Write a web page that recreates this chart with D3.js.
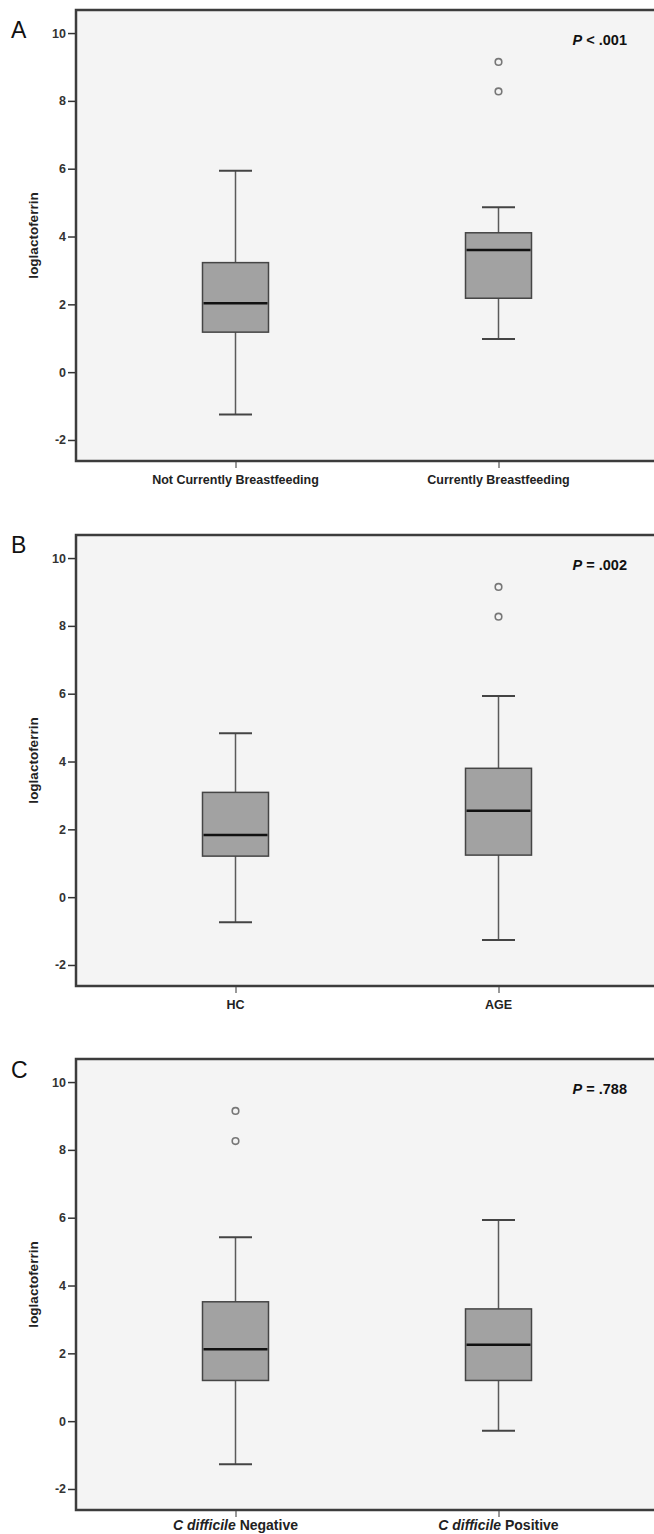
<!DOCTYPE html>
<html>
<head>
<meta charset="utf-8">
<script src="https://cdn.jsdelivr.net/npm/d3@7"></script>
<style>
  body { margin: 0; background: #fff; }
  svg { display: block; font-family: Arial, "Liberation Sans", sans-serif; }
</style>
</head>
<body>
<div id="container"></div>
<script>
/* DATA */
const panelLetters = ["A", "B", "C"]
const pValues = ["< .001", "= .002", "= .788"]
const yTicks = [-2, 0, 2, 4, 6, 8, 10]

const categoriesA = ["Not Currently Breastfeeding", "Currently Breastfeeding"]
const lowA = [-1.25, 0.98]
const q1A = [1.18, 2.18]
const medianA = [2.03, 3.60]
const q3A = [3.23, 4.11]
const highA = [5.94, 4.86]
const outliersA = [[], [9.15, 8.28]]

const categoriesB = ["HC", "AGE"]
const lowB = [-0.74, -1.26]
const q1B = [1.21, 1.24]
const medianB = [1.83, 2.55]
const q3B = [3.09, 3.80]
const highB = [4.83, 5.93]
const outliersB = [[], [9.15, 8.27]]

const categoriesC = ["C difficile Negative", "C difficile Positive"]
const lowC = [-1.27, -0.28]
const q1C = [1.20, 1.20]
const medianC = [2.12, 2.25]
const q3C = [3.52, 3.31]
const highC = [5.42, 5.93]
const outliersC = [[9.15, 8.26], []]

/* CONSTANTS AND GLOBALS */
const width = 654,
  height = 1534,
  frameLeft = 76,
  frameRight = 700,
  plotLeft = 104,
  plotRight = 630,
  frameHeight = 451,
  boxWidth = 66,
  capWidth = 33

// per panel: frame top, letter baseline, label size, label offset
const layout = [
  { top: 10, letterY: 38, labelSize: 12.5, labelDy: 23 },
  { top: 535, letterY: 553, labelSize: 12.5, labelDy: 23 },
  { top: 1059, letterY: 1078, labelSize: 14, labelDy: 20 }
]

const panelData = [
  { cats: categoriesA, low: lowA, q1: q1A, med: medianA, q3: q3A, high: highA, out: outliersA },
  { cats: categoriesB, low: lowB, q1: q1B, med: medianB, q3: q3B, high: highB, out: outliersB },
  { cats: categoriesC, low: lowC, q1: q1C, med: medianC, q3: q3C, high: highC, out: outliersC }
]

const svg = d3.select("#container")
  .append("svg")
  .attr("width", width)
  .attr("height", height)

panelData.forEach((p, i) => {
  const L = layout[i]
  const top = L.top, bottom = L.top + frameHeight

  /* SCALES */
  const yScale = d3.scaleLinear()
    .domain([-2.62, 10.68])
    .range([bottom, top])

  const xScale = d3.scalePoint()
    .domain(p.cats)
    .range([plotLeft, plotRight])
    .padding(0.5)

  const g = svg.append("g")

  // frame
  g.append("rect")
    .attr("x", frameLeft)
    .attr("y", top)
    .attr("width", frameRight - frameLeft)
    .attr("height", frameHeight)
    .attr("fill", "#f4f4f4")
    .attr("stroke", "#3c3c3c")
    .attr("stroke-width", 2.5)

  // y axis
  const yAxis = d3.axisLeft(yScale)
    .tickValues(yTicks)
    .tickFormat(d => String(d))
    .tickSize(7)
    .tickPadding(2)
  const ya = g.append("g")
    .attr("transform", `translate(${frameLeft - 1},0)`)
    .call(yAxis)
  ya.select(".domain").remove()
  ya.selectAll("line").attr("stroke", "#333").attr("stroke-width", 1.5)
  ya.selectAll("text")
    .attr("fill", "#333")
    .style("font-size", "12.5px")
    .style("font-weight", "bold")

  // x axis
  const xAxis = d3.axisBottom(xScale).tickSize(6).tickFormat("")
  const xa = g.append("g")
    .attr("transform", `translate(0,${bottom + 1})`)
    .call(xAxis)
  xa.select(".domain").remove()
  xa.selectAll("line").attr("stroke", "#555").attr("stroke-width", 1.2)

  // x labels
  const labels = g.selectAll("text.xlabel")
    .data(p.cats)
    .join("text")
    .attr("class", "xlabel")
    .attr("x", d => xScale(d))
    .attr("y", bottom + L.labelDy)
    .attr("text-anchor", "middle")
    .attr("fill", "#222")
    .style("font-size", L.labelSize + "px")
    .style("font-weight", "bold")
  labels.each(function(d) {
    const t = d3.select(this)
    if (d.startsWith("C difficile")) {
      t.append("tspan").style("font-style", "italic").text("C difficile")
      t.append("tspan").text(d.slice("C difficile".length))
    } else {
      t.text(d)
    }
  })

  // y label
  g.append("text")
    .attr("transform", `translate(38,${(top + bottom) / 2}) rotate(-90)`)
    .attr("text-anchor", "middle")
    .attr("fill", "#222")
    .style("font-size", "13.5px")
    .style("font-weight", "bold")
    .text("loglactoferrin")

  // panel letter
  g.append("text")
    .attr("x", 11)
    .attr("y", L.letterY)
    .attr("fill", "#111")
    .style("font-size", "23px")
    .text(panelLetters[i])

  // p value
  const pt = g.append("text")
    .attr("x", 627)
    .attr("y", top + 35)
    .attr("text-anchor", "end")
    .attr("fill", "#111")
    .style("font-size", "14.5px")
    .style("font-weight", "bold")
  pt.append("tspan").style("font-style", "italic").text("P")
  pt.append("tspan").text(" " + pValues[i])

  const idx = d3.range(p.cats.length)

  // whiskers
  g.selectAll("line.whisker")
    .data(idx)
    .join("line")
    .attr("class", "whisker")
    .attr("x1", j => xScale(p.cats[j]))
    .attr("x2", j => xScale(p.cats[j]))
    .attr("y1", j => yScale(p.low[j]))
    .attr("y2", j => yScale(p.high[j]))
    .attr("stroke", "#5a5a5a")
    .attr("stroke-width", 1.5)

  // caps
  const caps = idx.flatMap(j => [{ j, v: p.low[j] }, { j, v: p.high[j] }])
  g.selectAll("line.cap")
    .data(caps)
    .join("line")
    .attr("class", "cap")
    .attr("x1", d => xScale(p.cats[d.j]) - capWidth / 2)
    .attr("x2", d => xScale(p.cats[d.j]) + capWidth / 2)
    .attr("y1", d => yScale(d.v))
    .attr("y2", d => yScale(d.v))
    .attr("stroke", "#444")
    .attr("stroke-width", 2)

  // boxes
  g.selectAll("rect.box")
    .data(idx)
    .join("rect")
    .attr("class", "box")
    .attr("x", j => xScale(p.cats[j]) - boxWidth / 2)
    .attr("y", j => yScale(p.q3[j]))
    .attr("width", boxWidth)
    .attr("height", j => yScale(p.q1[j]) - yScale(p.q3[j]))
    .attr("fill", "#a2a2a2")
    .attr("stroke", "#454545")
    .attr("stroke-width", 1.5)

  // medians
  g.selectAll("line.median")
    .data(idx)
    .join("line")
    .attr("class", "median")
    .attr("x1", j => xScale(p.cats[j]) - boxWidth / 2 + 1)
    .attr("x2", j => xScale(p.cats[j]) + boxWidth / 2 - 1)
    .attr("y1", j => yScale(p.med[j]))
    .attr("y2", j => yScale(p.med[j]))
    .attr("stroke", "#111")
    .attr("stroke-width", 2.5)

  // outliers
  const outs = idx.flatMap(j => p.out[j].map(v => ({ j, v })))
  g.selectAll("circle.outlier")
    .data(outs)
    .join("circle")
    .attr("class", "outlier")
    .attr("cx", d => xScale(p.cats[d.j]))
    .attr("cy", d => yScale(d.v))
    .attr("r", 3.3)
    .attr("fill", "none")
    .attr("stroke", "#777")
    .attr("stroke-width", 1.6)
})
</script>
</body>
</html>
